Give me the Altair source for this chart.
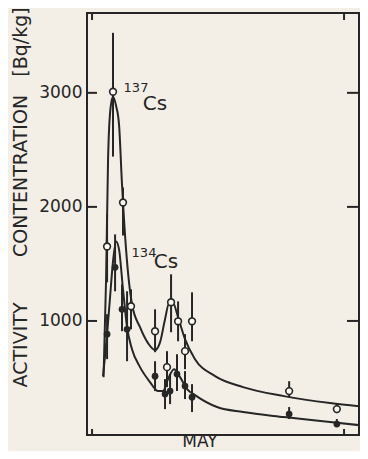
import altair as alt
import pandas as pd

INK = "#262626"
BG = "#f3efe6"

# 137Cs measurements (open circles): day of May, activity [Bq/kg], error bar low/high
cs137_day = [2.67, 3.33, 4.44, 5.33, 8.0, 9.78, 10.56, 12.11, 11.33, 9.33, 22.9, 28.2]
cs137_val = [1653, 3010, 2039, 1129, 910, 1164, 997, 997, 735, 595, 385, 227]
cs137_lo = [1339, 2441, 1750, 927, 726, 901, 822, 822, 577, 420, 332, 192]
cs137_hi = [1934, 3526, 2170, 1277, 1102, 1409, 1172, 1251, 884, 735, 472, 271]

# 134Cs measurements (filled circles)
cs134_day = [2.67, 3.56, 4.33, 4.89, 8.0, 9.11, 9.67, 10.44, 11.33, 12.11, 22.9, 28.2]
cs134_val = [884, 1470, 1102, 927, 516, 359, 385, 534, 429, 332, 184, 96]
cs134_lo = [665, 1260, 910, 647, 385, 227, 271, 385, 315, 201, 140, 70]
cs134_hi = [1059, 1759, 1321, 1260, 647, 490, 534, 709, 560, 446, 245, 140]

# fitted curves
fit137_day = [2.28, 2.56, 2.78, 3.06, 3.33, 3.67, 4.0, 4.33, 4.78, 5.44, 6.33, 7.22, 8.0,
              8.56, 9.11, 9.56, 10.0, 10.56, 11.33, 12.44, 14.67, 17.78, 22.33, 27.44, 31.56]
fit137_val = [507, 1365, 2415, 2870, 2966, 2887, 2721, 2196, 1627, 1146, 945, 805, 744,
              814, 1015, 1155, 1155, 1032, 840, 665, 516, 420, 341, 280, 245]
fit134_day = [2.22, 2.67, 3.0, 3.33, 3.67, 4.0, 4.44, 4.89, 5.44, 6.33, 7.44, 8.33, 8.89,
              9.44, 10.11, 10.78, 11.56, 12.44, 14.89, 17.78, 22.33, 27.44, 31.56]
fit134_val = [516, 884, 1207, 1522, 1697, 1627, 1277, 945, 752, 595, 464, 385, 385,
              490, 577, 507, 402, 350, 245, 201, 157, 114, 79]

y_ticks = [1000, 2000, 3000]
x_ticks = [1, 29]

W, H = 272, 422
xs = alt.Scale(domain=[0.44, 0.44 + W / 9.0], nice=False, zero=False)
ys = alt.Scale(domain=[0, 3700], nice=False)

m137 = pd.DataFrame({"day": cs137_day, "v": cs137_val, "lo": cs137_lo, "hi": cs137_hi})
m134 = pd.DataFrame({"day": cs134_day, "v": cs134_val, "lo": cs134_lo, "hi": cs134_hi})
f137 = pd.DataFrame({"day": fit137_day, "v": fit137_val})
f134 = pd.DataFrame({"day": fit134_day, "v": fit134_val})
yt = pd.DataFrame({"v": y_ticks})
xt = pd.DataFrame({"day": x_ticks})

X = alt.X("day:Q", scale=xs, axis=alt.Axis(labels=False, ticks=False, domain=False, grid=False, title=None))
Y = alt.Y("v:Q", scale=ys, axis=alt.Axis(values=y_ticks, format="d", ticks=False, tickSize=0, domain=False,
                                          grid=False, title=None, labelFont="DejaVu Sans", labelFontSize=17,
                                          labelColor=INK, labelPadding=5))

err137 = alt.Chart(m137).mark_rule(color=INK, strokeWidth=2).encode(x=X, y=alt.Y("lo:Q", scale=ys), y2="hi:Q")
err134 = alt.Chart(m134).mark_rule(color=INK, strokeWidth=2).encode(x=X, y=alt.Y("lo:Q", scale=ys), y2="hi:Q")
line137 = alt.Chart(f137).mark_line(color=INK, strokeWidth=2, interpolate="monotone", clip=True).encode(x=X, y=Y)
line134 = alt.Chart(f134).mark_line(color=INK, strokeWidth=2, interpolate="monotone", clip=True).encode(x=X, y=Y)
pt137 = alt.Chart(m137).mark_point(shape="circle", filled=True, fill="#fbf9f4", stroke=INK,
                                   strokeWidth=1.6, size=45, opacity=1).encode(x=X, y=Y)
pt134 = alt.Chart(m134).mark_circle(color=INK, size=45, opacity=1).encode(x=X, y=Y)

ytl = alt.Chart(yt).mark_rule(color=INK, strokeWidth=2).encode(
    y=alt.Y("v:Q", scale=ys), x=alt.value(0), x2=alt.value(10))
ytr = alt.Chart(yt).mark_rule(color=INK, strokeWidth=2).encode(
    y=alt.Y("v:Q", scale=ys), x=alt.value(W - 12), x2=alt.value(W))
xtb = alt.Chart(xt).mark_rule(color=INK, strokeWidth=2).encode(
    x=alt.X("day:Q", scale=xs), y=alt.value(H - 6), y2=alt.value(H))
xtt = alt.Chart(xt).mark_rule(color=INK, strokeWidth=2).encode(
    x=alt.X("day:Q", scale=xs), y=alt.value(0), y2=alt.value(7))

one = pd.DataFrame({"a": [0]})


def txt(s, x, y, size, angle=0):
    return alt.Chart(one).mark_text(text=s, font="DejaVu Sans", fontSize=size, color=INK,
                                    align="center", baseline="middle", angle=angle).encode(
        x=alt.value(x), y=alt.value(y))


labels = [
    txt("137", 49, 75, 13),
    txt("Cs", 68, 91, 20),
    txt("134", 57, 240, 13),
    txt("Cs", 79, 249, 20),
    txt("ACTIVITY", -66, 332, 19, 270),
    txt("CONTENTRATION", -66, 163, 19, 270),
    txt("[Bq/kg]", -66, 29, 19, 270),
    txt("MAY", 113, 429, 17),
]

chart = alt.layer(
    err137, err134, line137, line134, pt137, pt134, ytl, ytr, xtb, xtt, *labels
).properties(
    width=W, height=H,
    autosize=alt.AutoSizeParams(type="none"),
    padding={"left": 79, "top": 5, "right": 1, "bottom": 16},
    background=BG,
).configure_view(stroke=INK, strokeWidth=2)

chart.save("out.html", embed_options={"renderer": "svg", "actions": False})
